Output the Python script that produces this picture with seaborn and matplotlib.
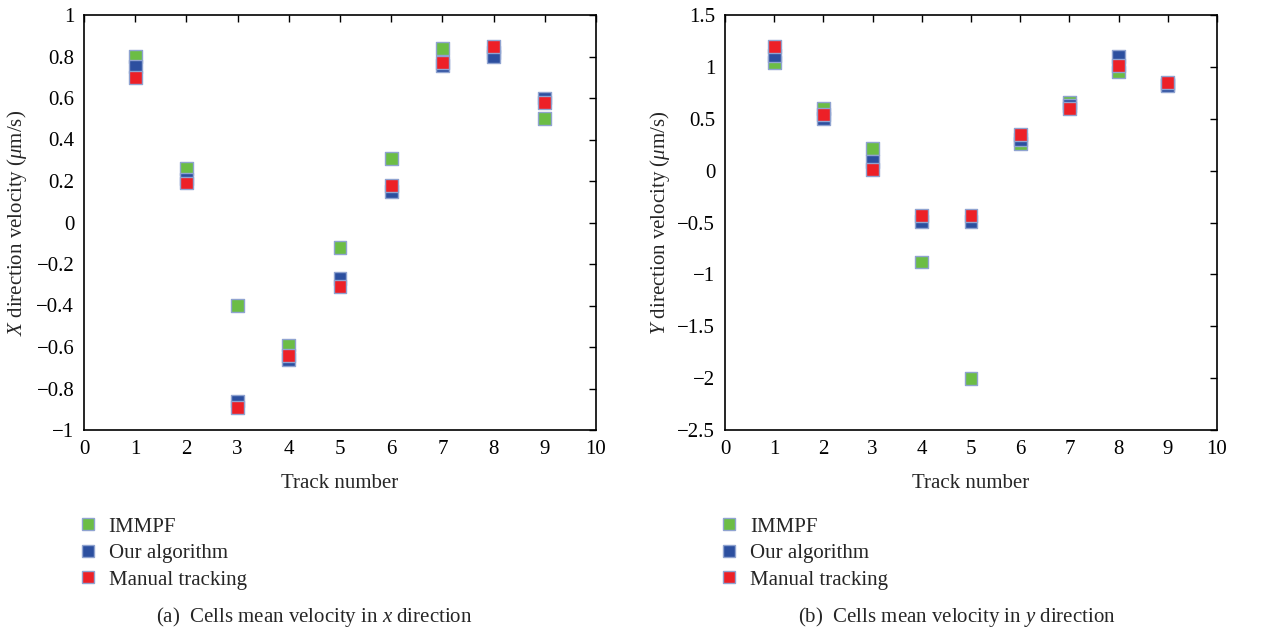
import matplotlib
matplotlib.use("Agg")
import matplotlib.pyplot as plt
import seaborn as sns
import pandas as pd

tracks = [1, 2, 3, 4, 5, 6, 7, 8, 9]
series = ["IMMPF", "Our algorithm", "Manual tracking"]

x_immpf = [0.80, 0.26, -0.40, -0.59, -0.12, 0.31, 0.84, 0.82, 0.50]
x_ours = [0.75, 0.21, -0.86, -0.66, -0.27, 0.15, 0.755, 0.80, 0.60]
x_manual = [0.70, 0.19, -0.89, -0.64, -0.31, 0.18, 0.77, 0.85, 0.58]

y_immpf = [1.04, 0.60, 0.21, -0.88, -2.00, 0.26, 0.66, 0.95, 0.83]
y_ours = [1.11, 0.50, 0.09, -0.49, -0.49, 0.30, 0.63, 1.10, 0.82]
y_manual = [1.20, 0.54, 0.01, -0.43, -0.43, 0.35, 0.60, 1.01, 0.85]

colors = ["#6cbd45", "#2c4f9f", "#ed2027"]
edge = "#8fa3d0"

sns.set_theme(style="white")
plt.rcParams["font.family"] = ["Liberation Serif", "DejaVu Serif"]
plt.rcParams["mathtext.fontset"] = "custom"
plt.rcParams["mathtext.rm"] = "Liberation Serif"
plt.rcParams["mathtext.it"] = "Liberation Serif:italic"


def long_df(a, b, c):
    rows = []
    for name, vals in zip(series, [a, b, c]):
        for t, v in zip(tracks, vals):
            rows.append({"track": t, "value": v, "series": name})
    return pd.DataFrame(rows)


fig = plt.figure(figsize=(12.75, 6.32), dpi=100)
ax1 = fig.add_axes([84 / 1275, 1 - 430 / 632, 512 / 1275, 415 / 632])
ax2 = fig.add_axes([725 / 1275, 1 - 430 / 632, 492 / 1275, 415 / 632])

configs = [
    (ax1, long_df(x_immpf, x_ours, x_manual), (-1, 1), [-1, -0.8, -0.6, -0.4, -0.2, 0, 0.2, 0.4, 0.6, 0.8, 1],
     r"$X$ direction velocity ($\mu$m/s)", r"(a)  Cells mean velocity in $x$ direction", 314, 29),
    (ax2, long_df(y_immpf, y_ours, y_manual), (-2.5, 1.5), [-2.5, -2, -1.5, -1, -0.5, 0, 0.5, 1, 1.5],
     r"$Y$ direction velocity ($\mu$m/s)", r"(b)  Cells mean velocity in $y$ direction", 957, 672),
]

for ax, df, ylim, yticks, ylabel, caption, cx, ylx in configs:
    sns.scatterplot(data=df, x="track", y="value", hue="series", hue_order=series,
                    palette=colors, marker="s", s=85, edgecolor=edge, linewidth=1.0,
                    ax=ax, legend=True)
    ax.set_xlim(0, 10)
    ax.set_ylim(*ylim)
    ax.set_xticks(range(0, 11))
    ax.set_yticks(yticks)
    ax.set_yticklabels([("%g" % v).replace("-", "\u2212") for v in yticks])
    ax.set_xlabel("Track number", fontsize=15, labelpad=11)
    ax.set_ylabel(ylabel, fontsize=15)
    pos = ax.get_position()
    ax.yaxis.set_label_coords((ylx - pos.x0 * 1275) / (pos.width * 1275), 0.5)
    ax.tick_params(direction="in", length=5, width=1, top=True, right=True,
                   labelsize=15, colors="black", pad=7)
    for sp in ax.spines.values():
        sp.set_color("black")
        sp.set_linewidth(1.2)
    leg = ax.legend(loc="upper left", bbox_to_anchor=(-0.027, -0.19), frameon=False,
                    fontsize=15, handletextpad=0.55, labelspacing=0.33,
                    borderaxespad=0, handlelength=0.9, markerscale=0.9)
    fig.text(cx / 1275, 1 - 617 / 632, caption, ha="center", va="center", fontsize=15)

fig.savefig("out.png", dpi=100)
